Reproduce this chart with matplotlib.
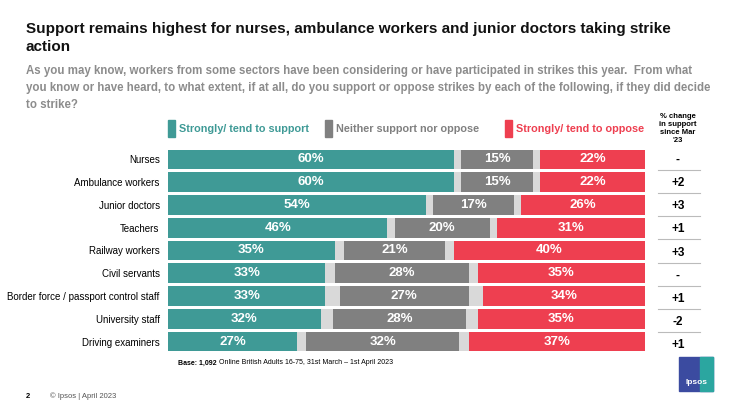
import matplotlib
matplotlib.use("Agg")
import matplotlib.pyplot as plt
from matplotlib.patches import Rectangle
plt.rcParams["font.family"] = "Liberation Sans"

categories = ["Nurses", "Ambulance workers", "Junior doctors", "Teachers", "Railway workers",
              "Civil servants", "Border force / passport control staff", "University staff", "Driving examiners"]
support = [60, 60, 54, 46, 35, 33, 33, 32, 27]
neither = [15, 15, 17, 20, 21, 28, 27, 28, 32]
oppose = [22, 22, 26, 31, 40, 35, 34, 35, 37]
change = ["-", "+2", "+3", "+1", "+3", "-", "+1", "-2", "+1"]

TEAL = "#3F9A96"; GREY = "#808080"; RED = "#EE3F50"; GAP = "#D9D9D9"
W, H = 740, 416
fig = plt.figure(figsize=(7.4, 4.16), dpi=100)
def fx(x): return x / W
def fy(y): return 1 - y / H

ax = fig.add_axes([fx(168), fy(353), fx(645) - fx(168), fy(148) - fy(353)])
n = len(categories)
ys = list(range(n))
for i in range(n):
    rest = 100 - support[i] - neither[i] - oppose[i]
    g = rest / 2
    segs = [(support[i], TEAL, True), (g, GAP, False), (neither[i], GREY, True), (g, GAP, False), (oppose[i], RED, True)]
    left = 0
    for v, c, lab in segs:
        ax.barh(i, v, left=left, color=c, height=0.86)
        if lab:
            ax.text(left + v / 2, i, f"{v}%", ha="center", va="center", color="white",
                    fontsize=9.5, fontweight="bold")
        left += v
ax.set_xlim(0, 100)
ax.set_ylim(n - 0.5, -0.5)
ax.set_yticks(ys)
ax.set_yticklabels(categories, fontsize=7)
ax.tick_params(length=0, pad=6)
ax.set_xticks([])
for s in ax.spines.values():
    s.set_visible(False)

fig.text(fx(26), fy(38), "Support remains highest for nurses, ambulance workers and junior doctors taking strike\naction",
         fontsize=11, fontweight="bold", va="center", color="#111111", linespacing=1.3)
fig.text(fx(26), fy(88), "As you may know, workers from some sectors have been considering or have participated in strikes this year.  From what\n"
         "you know or have heard, to what extent, if at all, do you support or oppose strikes by each of the following, if they did decide\n"
         "to strike?", fontsize=8.3, fontweight="bold", color="#8C8C8C", va="center", linespacing=1.55)

for x0, c, t in [(168, TEAL, "Strongly/ tend to support"), (325, GREY, "Neither support nor oppose"),
                 (505, RED, "Strongly/ tend to oppose")]:
    fig.patches.append(Rectangle((fx(x0), fy(137)), fx(7), fy(120) - fy(137), color=c, transform=fig.transFigure))
    fig.text(fx(x0 + 11), fy(129), t, color=c, fontsize=7.8, fontweight="bold", va="center")

fig.text(fx(678), fy(128), "% change\nin support\nsince Mar\n'23", fontsize=5.5, fontweight="bold",
         ha="center", va="center", linespacing=1.2)

for i in range(n):
    ypix = 158 + i * (343 - 158) / (n - 1)
    fig.text(fx(678), fy(ypix + 2), change[i], fontsize=8.5, fontweight="bold", ha="center", va="center")
    if i < n - 1:
        yl = fy(ypix + 12)
        fig.add_artist(plt.Line2D([fx(658), fx(700)], [yl, yl], color="#BBBBBB", lw=0.8))

t1 = fig.text(fx(178), fy(363), "Base: 1,092", fontsize=5, fontweight="bold", va="center")
fig.canvas.draw()
bb = t1.get_window_extent()
fig.text(bb.x1 / fig.bbox.width + fx(2), fy(363), "Online British Adults 16-75, 31st March \u2013 1st April 2023",
         fontsize=5, va="center")
fig.text(fx(26), fy(396), "2", fontsize=5.5, fontweight="bold", va="center")
fig.text(fx(50), fy(396), "\u00a9 Ipsos | April 2023", fontsize=5.5, color="#555555", va="center")

fig.patches.append(Rectangle((fx(679), fy(391)), fx(34), fy(357) - fy(391), color="#3B4BA0", transform=fig.transFigure))
fig.patches.append(Rectangle((fx(700), fy(391)), fx(13), fy(357) - fy(391), color="#2BA6A0", transform=fig.transFigure))
fig.text(fx(696), fy(382), "Ipsos", color="white", fontsize=6, fontweight="bold", ha="center", va="center")

fig.savefig("out.png", dpi=100)
